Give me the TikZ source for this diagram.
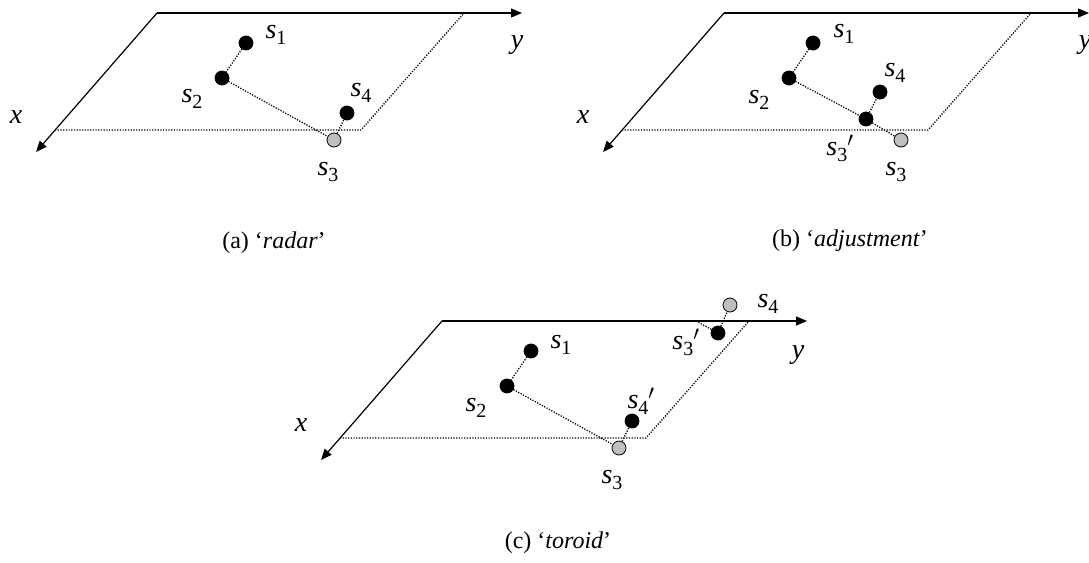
\documentclass[tikz,border=0pt]{standalone}
\usepackage{fontspec}
\setmainfont{Liberation Serif}
\usetikzlibrary{arrows.meta}
\newcommand{\sv}[1]{\textit{s}\raisebox{-0.22em}{\fontsize{20}{22}\selectfont #1}}

\begin{document}
\begin{tikzpicture}[x=1pt, y=-1pt, >={Triangle[length=11pt,width=9pt]}, font=\fontsize{28}{32}\selectfont]
	\tikzset{site/.style={circle, draw, line width=0.8pt, fill=black, inner sep=0pt, minimum size=14pt},
		moved/.style={site, fill=black!25},
		link/.style={line width=1.3pt, dash pattern=on 1.2pt off 1.5pt},
		axis/.style={line width=1.2pt, ->},
		caption/.style={font=\fontsize{24}{28}\selectfont}}
	\useasboundingbox (0,0) rectangle (1089,562);
	% the plane with its x and y axes, once per panel
	\foreach \p/\dx/\dy in {a/0/0, b/567/0, c/285/308} {
		\begin{scope}[shift={(\dx,\dy)}]
		\coordinate (\p-o) at (157,13);
		\coordinate (\p-x) at (36,152);
		\coordinate (\p-y) at (522,13);
		\coordinate (\p-bl) at (55,130);
		\coordinate (\p-br) at (361,130);
		\coordinate (\p-tr) at (464,13);
		\draw[link] (\p-bl) -- (\p-br) -- (\p-tr);
		\draw[axis] (\p-o) -- (\p-x);
		\draw[axis] (\p-o) -- (\p-y);
		\node (\p-xl) at (16,117) {\textit{x}};
		\end{scope}
	}
	% (a) radar
	\node (a-yl) at (517,45) {\textit{y}};
	\node[site] (a1) at (246,43) {};
	\node[site] (a2) at (222,78) {};
	\node[moved] (a3) at (334,140) {};
	\node[site] (a4) at (347,113) {};
	\draw[link] (a1) -- (a2) -- (a3) -- (a4);
	\node (a1l) at (276,35) {\sv{1}};
	\node (a2l) at (192,99) {\sv{2}};
	\node (a3l) at (328,172) {\sv{3}};
	\node (a4l) at (361,93) {\sv{4}};
	\node[caption] (acap) at (274,243) {(a) `\textit{radar}'};
	\begin{scope}[shift={(567,0)}]
	% (b) adjustment
	\node (b-yl) at (518,45) {\textit{y}};
	\node[site] (b1) at (246,43) {};
	\node[site] (b2) at (222,78) {};
	\node[site] (b3p) at (299,119) {};
	\node[moved] (b3) at (334,140) {};
	\node[site] (b4) at (313,92) {};
	\draw[link] (b1) -- (b2) -- (b3p) -- (b3);
	\draw[link] (b3p) -- (b4);
	\node (b1l) at (277,34) {\sv{1}};
	\node (b2l) at (192,100) {\sv{2}};
	\node (b3pl) at (273,148) {\sv{3}$'$};
	\node (b3l) at (329,172) {\sv{3}};
	\node (b4l) at (328,73) {\sv{4}};
	\node[caption] (bcap) at (283,241) {(b) `\textit{adjustment}'};
	\end{scope}
	\begin{scope}[shift={(285,308)}]
	% (c) toroid: s3 and s4 wrap round to the far edge
	\node (c-yl) at (513,47) {\textit{y}};
	\node[site] (c1) at (246,43) {};
	\node[site] (c2) at (222,78) {};
	\node[moved] (c3) at (334,140) {};
	\node[site] (c4p) at (347,113) {};
	\node[site] (c3p) at (433,25) {};
	\node[moved] (c4) at (445,-3) {};
	\coordinate (cw) at (411,13);
	\draw[link] (c1) -- (c2) -- (c3) -- (c4p);
	\draw[link] (cw) -- (c3p) -- (c4);
	\node (c1l) at (276,37) {\sv{1}};
	\node (c2l) at (191,100) {\sv{2}};
	\node (c3l) at (327,172) {\sv{3}};
	\node[anchor=west] (c4pl) at (339,93) {\sv{4}$'$};
	\node (c3pl) at (401,34) {\sv{3}$'$};
	\node (c4l) at (483,-4) {\sv{4}};
	\node[caption] (ccap) at (273,235) {(c) `\textit{toroid}'};
	\end{scope}
\end{tikzpicture}
\end{document}
